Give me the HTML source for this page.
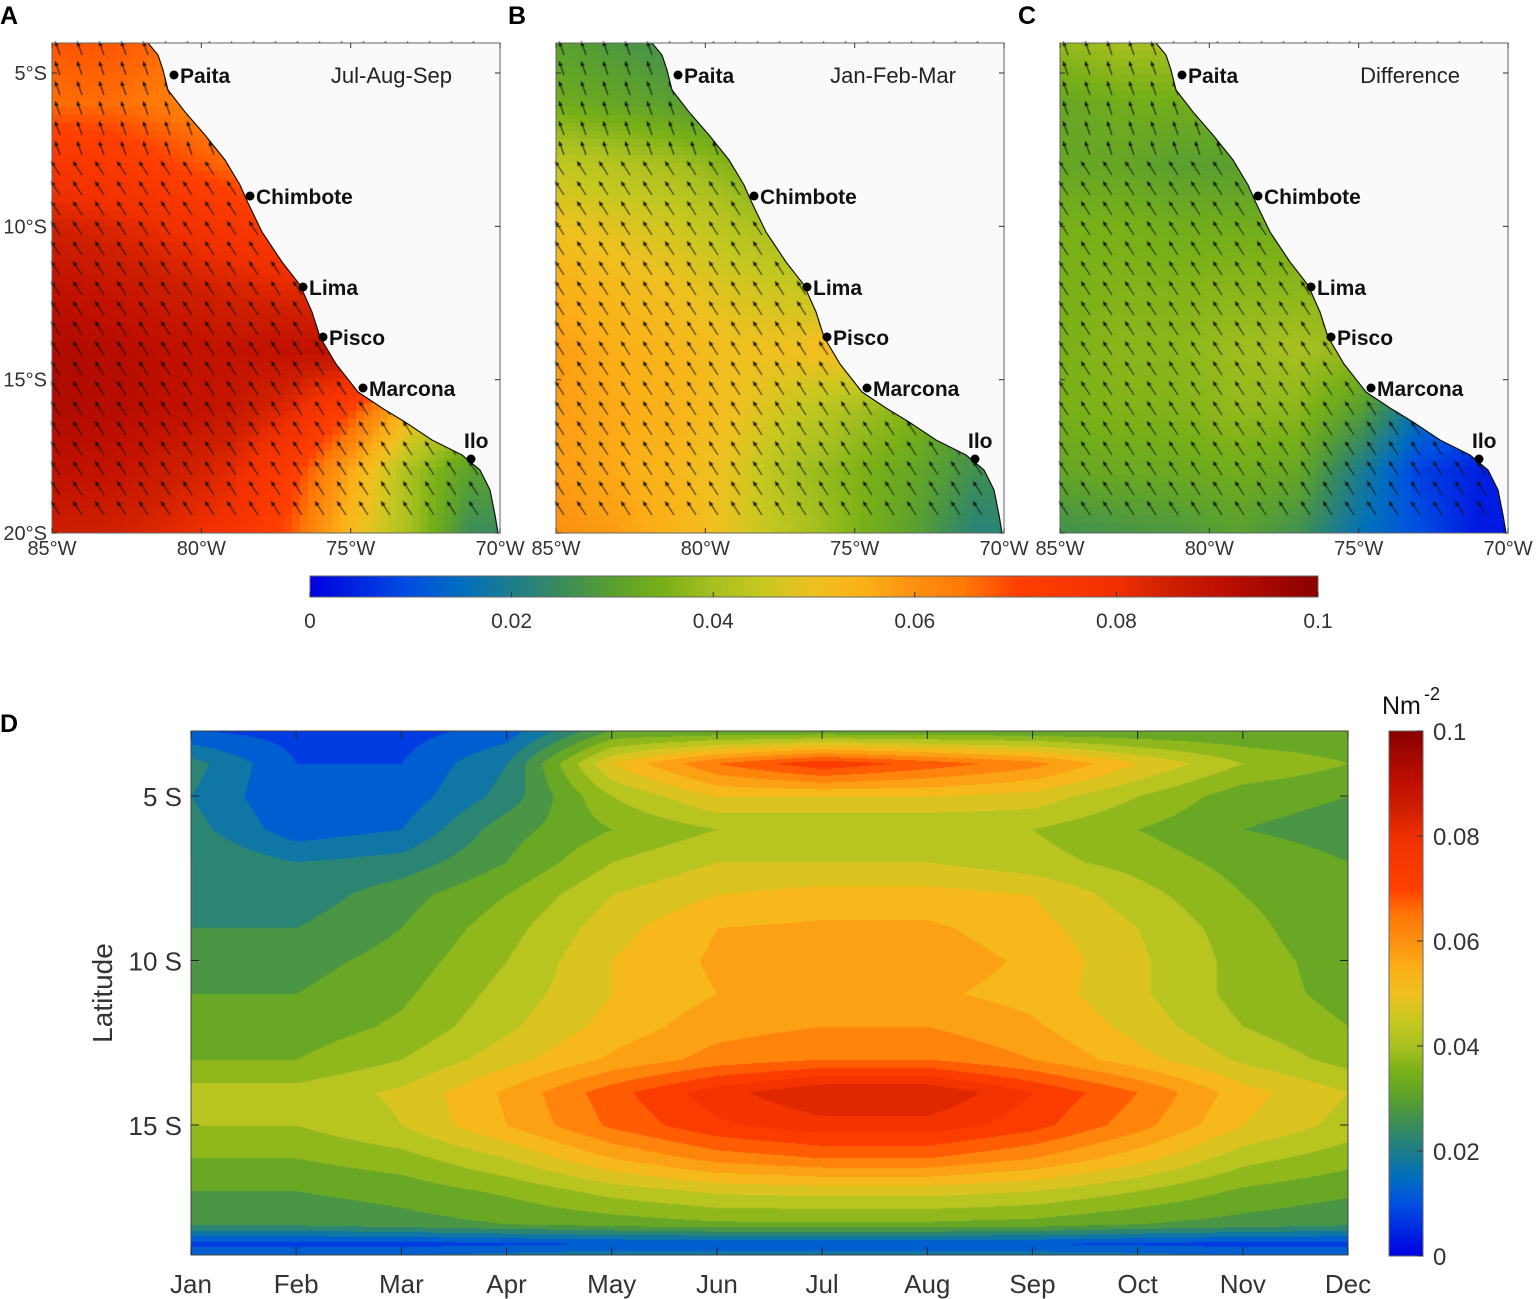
<!DOCTYPE html>
<html><head><meta charset="utf-8">
<style>
html,body{margin:0;padding:0;background:#fff;}
#wrap{position:relative;width:1536px;height:1299px;overflow:hidden;font-family:"Liberation Sans",sans-serif;}
canvas,svg{position:absolute;left:0;top:0;}
</style></head>
<body>
<div id="wrap">
<canvas id="cv" width="1536" height="1299"></canvas>
<svg id="sv" width="1536" height="1299"></svg>
</div>
<script>
// ---- Data ----
const months = ["Jan","Feb","Mar","Apr","May","Jun","Jul","Aug","Sep","Oct","Nov","Dec"];
const lats = [3,4,5,6,7,8,9,10,11,12,13,14,15,16,17,18,18.6,19];
const stress = [
[.010,.008,.008,.012,.030,.030,.030,.030,.030,.030,.030,.030],
[.022,.010,.010,.020,.050,.065,.074,.068,.062,.050,.040,.035],
[.020,.010,.012,.022,.040,.050,.050,.050,.048,.040,.032,.030],
[.022,.012,.015,.028,.035,.040,.040,.040,.040,.035,.030,.028],
[.025,.020,.022,.030,.040,.045,.045,.045,.042,.038,.033,.030],
[.025,.022,.028,.035,.045,.050,.052,.052,.050,.042,.035,.030],
[.025,.025,.030,.038,.048,.055,.056,.056,.052,.045,.037,.030],
[.028,.028,.032,.040,.050,.056,.058,.058,.054,.046,.038,.032],
[.030,.030,.034,.042,.050,.055,.056,.056,.053,.046,.038,.033],
[.032,.032,.036,.044,.052,.058,.060,.060,.056,.048,.040,.035],
[.035,.035,.040,.048,.056,.062,.065,.065,.060,.052,.044,.038],
[.042,.042,.046,.056,.068,.078,.085,.085,.075,.065,.052,.045],
[.040,.040,.045,.055,.066,.074,.078,.078,.072,.062,.050,.043],
[.035,.035,.038,.045,.055,.062,.065,.065,.060,.052,.042,.037],
[.030,.030,.032,.036,.042,.046,.047,.047,.045,.040,.034,.031],
[.026,.026,.028,.030,.032,.034,.034,.034,.033,.030,.028,.026],
[.008,.008,.008,.009,.010,.010,.010,.010,.010,.009,.008,.008],
[.016,.016,.016,.018,.020,.020,.020,.020,.019,.018,.016,.016]];
const mapLats = [4,6,8,10,12,14,16,18,20];
const mapLons = [85,83,81,79,77,75,73,71];
const julAugSep = [
[.068,.068,.066,.062,.056,.045,.040,.030],
[.066,.066,.064,.062,.058,.050,.040,.040],
[.076,.074,.070,.066,.062,.058,.050,.050],
[.085,.083,.080,.076,.072,.068,.060,.060],
[.090,.088,.086,.084,.082,.080,.070,.060],
[.093,.092,.090,.089,.090,.090,.085,.060],
[.093,.092,.090,.088,.082,.070,.052,.040],
[.090,.089,.086,.082,.072,.056,.040,.030],
[.086,.085,.082,.078,.068,.052,.040,.025]];
const janFebMar = [
[.030,.028,.026,.024,.022,.020,.018,.018],
[.034,.032,.030,.028,.026,.024,.022,.020],
[.044,.042,.040,.036,.032,.030,.028,.026],
[.050,.048,.046,.042,.038,.035,.032,.030],
[.055,.052,.050,.047,.045,.043,.038,.032],
[.058,.055,.053,.050,.050,.052,.046,.032],
[.058,.056,.054,.050,.045,.040,.036,.028],
[.058,.056,.053,.048,.040,.036,.032,.026],
[.060,.058,.054,.048,.042,.036,.030,.022]];
const cbTicks = [0,0.02,0.04,0.06,0.08,0.1];
const cbLabels = ["0","0.02","0.04","0.06","0.08","0.1"];
const latTicks = [5,10,15];
const latLabels = ["5 S","10 S","15 S"];
const mapLatTicks = [5,10,15,20];
const mapLonTicks = [85,80,75,70];

// ---- Colormap ----
const stops=[[0,[0,0,225]],[.01,[0,80,225]],[.015,[0,110,190]],[.02,[30,125,140]],[.025,[58,140,90]],[.03,[90,160,48]],[.035,[120,176,24]],[.04,[168,192,32]],[.045,[200,200,32]],[.05,[240,192,32]],[.055,[252,176,24]],[.06,[252,144,16]],[.065,[255,120,8]],[.07,[255,64,0]],[.08,[240,48,0]],[.085,[208,32,0]],[.09,[192,16,0]],[.1,[138,0,0]]];
function cmap(v){v=Math.max(0,Math.min(.1,v));for(let i=1;i<stops.length;i++){if(v<=stops[i][0]){const a=stops[i-1],b=stops[i],t=(v-a[0])/(b[0]-a[0]);return a[1].map((c,k)=>Math.round(c+(b[1][k]-c)*t));}}return stops[stops.length-1][1];}
function bil(grid,r,c){const R=grid.length-1,C=grid[0].length-1;r=Math.max(0,Math.min(R,r));c=Math.max(0,Math.min(C,c));const r0=Math.min(Math.floor(r),R-1),c0=Math.min(Math.floor(c),C-1),tr=r-r0,tc=c-c0;
return grid[r0][c0]*(1-tr)*(1-tc)+grid[r0][c0+1]*(1-tr)*tc+grid[r0+1][c0]*tr*(1-tc)+grid[r0+1][c0+1]*tr*tc;}
function latRow(lat){if(lat<=lats[0])return 0;for(let i=1;i<lats.length;i++){if(lat<=lats[i])return i-1+(lat-lats[i-1])/(lats[i]-lats[i-1]);}return lats.length-1;}

const cv=document.getElementById('cv'),ctx=cv.getContext('2d');
const NS="http://www.w3.org/2000/svg",sv=document.getElementById('sv');
function el(tag,attrs,parent){const e=document.createElementNS(NS,tag);for(const k in attrs)e.setAttribute(k,attrs[k]);(parent||sv).appendChild(e);return e;}
function txt(s,attrs){const e=el('text',attrs);e.textContent=s;return e;}

// ---- Panel D axes ----
const dX0=191,dX1=1348,dY0=731,dY1=1255;
const xM=i=>dX0+i*(dX1-dX0)/11;
const yLat=l=>796+(l-5)*32.9;
const img=ctx.createImageData(dX1-dX0,dY1-dY0);
for(let py=0;py<dY1-dY0;py++){const lat=5+(py+dY0-796)/32.9;const r=latRow(lat);
for(let px=0;px<dX1-dX0;px++){const c=px/((dX1-dX0)/11);let v=bil(stress,r,c);v=Math.floor(v/0.005)*0.005+0.0025;const col=cmap(v);const o=(py*(dX1-dX0)+px)*4;img.data[o]=col[0];img.data[o+1]=col[1];img.data[o+2]=col[2];img.data[o+3]=255;}}
ctx.putImageData(img,dX0,dY0);
const frameD=el('rect',{x:dX0,y:dY0,width:dX1-dX0,height:dY1-dY0,fill:'none',stroke:'#444','stroke-width':1});

months.forEach((m,i)=>{const x=xM(i);
 el('line',{x1:x,y1:dY1,x2:x,y2:dY1-8,stroke:'#222'});el('line',{x1:x,y1:dY0,x2:x,y2:dY0+8,stroke:'#222'});
 const t=txt(m,{x:x,y:1293,'text-anchor':'middle','font-size':26,fill:'#333'});
 });
latTicks.forEach((l,i)=>{const y=yLat(l);
 el('line',{x1:dX0,y1:y,x2:dX0+8,y2:y,stroke:'#222'});el('line',{x1:dX1,y1:y,x2:dX1-8,y2:y,stroke:'#222'});
 const t=txt(latLabels[i],{x:182,y:y+10,'text-anchor':'end','font-size':26,fill:'#333'});
 });
const yt=txt('Latitude',{x:0,y:0,transform:'translate(112,993) rotate(-90)','text-anchor':'middle','font-size':28,fill:'#333'});


// vertical colorbar
const vX=1389,vW=34,vY0=731,vY1=1256;
for(let py=vY0;py<vY1;py++){const v=(vY1-py)/(vY1-vY0)*0.1;const c=cmap(v);ctx.fillStyle=`rgb(${c})`;ctx.fillRect(vX,py,vW,1);}
const vcb=el('rect',{x:vX,y:vY0,width:vW,height:vY1-vY0,fill:'none',stroke:'#666'});

cbTicks.forEach((v,i)=>{const y=vY1-v/0.1*(vY1-vY0);el('line',{x1:vX+vW-6,y1:y,x2:vX+vW,y2:y,stroke:'#333'});
 const t=txt(cbLabels[i],{x:1433,y:y+9,'font-size':24,fill:'#333'});});
const un=txt('Nm',{x:1382,y:714,'font-size':25,fill:'#111'});
txt('-2',{x:1424,y:700,'font-size':18,fill:'#111'});

// horizontal colorbar
const hX0=310,hX1=1318,hY=576,hH=21;
for(let px=hX0;px<hX1;px++){const c=cmap((px-hX0)/(hX1-hX0)*0.1);ctx.fillStyle=`rgb(${c})`;ctx.fillRect(px,hY,1,hH);}
const hcb=el('rect',{x:hX0,y:hY,width:hX1-hX0,height:hH,fill:'none',stroke:'#666'});

cbTicks.forEach((v,i)=>{const x=hX0+v/0.1*(hX1-hX0);el('line',{x1:x,y1:hY+hH-5,x2:x,y2:hY+hH,stroke:'#333'});
 const t=txt(cbLabels[i],{x:x,y:628,'text-anchor':'middle','font-size':21,fill:'#333'});});

// ---- Maps ----
const coast=[[148,43],[158,55],[163,70],[168,90],[185,112],[205,135],[225,160],[240,185],[248,203],[262,232],[282,262],[300,285],[312,312],[320,337],[336,364],[358,392],[382,408],[405,422],[432,440],[462,455],[480,470],[490,490],[495,515],[498,533]];
const cities=[["Paita",174,75,1],["Chimbote",250,196,1],["Lima",303,287,1],["Pisco",323,337,1],["Marcona",363,388,1],["Ilo",471,459,0]];
const panels=[{off:0,grid:julAugSep,title:"Jul-Aug-Sep",letter:"A"},{off:504,grid:janFebMar,title:"Jan-Feb-Mar",letter:"B"},{off:1008,grid:null,title:"Difference",letter:"C"}];
const mX=lon=>52+(85-lon)*29.87;
const mY=lat=>73+(lat-5)*30.67;
panels.forEach((p,pi)=>{
 const off=p.off;
 const val=(r,c)=>p.grid?bil(p.grid,r,c):bil(julAugSep,r,c)-bil(janFebMar,r,c);
 const cs=8;
 for(let y=43;y<533;y+=cs)for(let x=52;x<500;x+=cs){
  const lon=85-(x+cs/2-52)/29.87,lat=5+(y+cs/2-73)/30.67;
  const r=(lat-mapLats[0])/2,c=(85-lon)/2;const col=cmap(val(r,c));
  ctx.fillStyle=`rgb(${col})`;ctx.fillRect(x+off,y,Math.min(cs,500-x),Math.min(cs,533-y));}
 ctx.strokeStyle='#111';ctx.fillStyle='#111';ctx.lineWidth=1;
 for(let y=55;y<530;y+=20)for(let x=60;x<500;x+=22){
  const lat=5+(y-73)/30.67;const dx=lat<8?-0.3:-0.55,dy=-0.85;const L=16;
  const x0=x+off,y0=y,x1=x0+dx*L,y1=y0+dy*L;
  ctx.beginPath();ctx.moveTo(x0,y0);ctx.lineTo(x1,y1);ctx.stroke();
  const a=Math.atan2(dy,dx);ctx.beginPath();ctx.moveTo(x1,y1);ctx.lineTo(x1-5*Math.cos(a-0.45),y1-5*Math.sin(a-0.45));ctx.lineTo(x1-5*Math.cos(a+0.45),y1-5*Math.sin(a+0.45));ctx.closePath();ctx.fill();}
 const g=el('g',{transform:`translate(${off},0)`});
 
 const land=coast.map(q=>q.join(',')).join(' ')+' 502,533 502,43';
 const lp=el('polygon',{points:land,fill:'#fafafa',stroke:'none'},g);
 
 el('polyline',{points:coast.map(q=>q.join(',')).join(' '),fill:'none',stroke:'#111','stroke-width':1.2},g);
 el('rect',{x:52,y:43,width:448,height:490,fill:'none',stroke:'#666','stroke-width':1},g);
 mapLatTicks.forEach(l=>{el('line',{x1:52,y1:mY(l),x2:57,y2:mY(l),stroke:'#333'},g);el('line',{x1:500,y1:mY(l),x2:495,y2:mY(l),stroke:'#333'},g);});
 mapLonTicks.forEach(l=>{el('line',{x1:mX(l),y1:533,x2:mX(l),y2:528,stroke:'#333'},g);el('line',{x1:mX(l),y1:43,x2:mX(l),y2:48,stroke:'#333'},g);
  const t=el('text',{x:mX(l),y:555,'text-anchor':'middle','font-size':20,fill:'#333'},g);t.textContent=l+'°W';});
 if(pi==0)mapLatTicks.forEach(l=>{const t=txt(l+'°S',{x:47,y:mY(l)+7,'text-anchor':'end','font-size':20,fill:'#333'});});
 cities.forEach(c=>{el('circle',{cx:c[1],cy:c[2],r:4.5,fill:'#000'},g);
  const t=el('text',c[3]?{x:c[1]+6,y:c[2]+8,'font-size':21,'font-weight':'bold',fill:'#111'}:{x:c[1]-7,y:c[2]-11,'font-size':21,'font-weight':'bold',fill:'#111'},g);
  t.textContent=c[0];});
 const tt=el('text',{x:452,y:83,'text-anchor':'end','font-size':22,fill:'#222'},g);tt.textContent=p.title;
 
 const lt=txt(p.letter,{x:[0,508,1018][pi],y:24,'font-size':25,'font-weight':'bold',fill:'#000'});
 
});
const ld=txt('D',{x:0,y:732,'font-size':25,'font-weight':'bold',fill:'#000'});

</script>
</body></html>
